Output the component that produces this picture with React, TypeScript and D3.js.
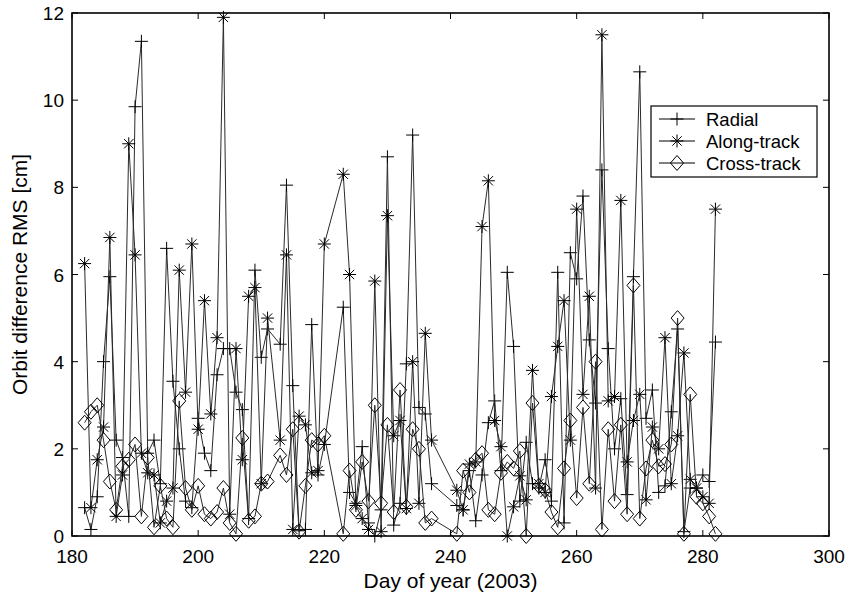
import React from 'react';
import * as d3 from 'd3';

// ---- data ----
const days = [
  182, 183, 184, 185, 186, 187, 188, 189, 190, 191, 192, 193, 194, 195, 196, 197, 198, 199, 200,
  201, 202, 203, 204, 205, 206, 207, 208, 209, 210, 211, 213, 214, 215, 216, 217, 218, 219, 220,
  223, 224, 225, 226, 227, 228, 229, 230, 231, 232, 233, 234, 235, 236, 237,
  241, 242, 243, 244, 245, 246, 247, 248, 249, 250, 251, 252, 253, 254, 255, 256, 257, 258, 259, 260,
  261, 262, 263, 264, 265, 266, 267, 268, 269, 270, 271, 272, 273, 274, 275, 276, 277, 278, 279, 280,
  281, 282,
];

const radial = [
  0.65, 0.15, 0.9, 4.0, 5.95, 2.2, 1.8, 0.45, 9.85, 11.35, 1.9, 2.2, 1.2, 6.6, 3.55, 2.0, 0.8, 0.65, 2.7,
  1.9, 1.5, 3.7, 4.3, 4.3, 3.3, 2.9, 0.4, 6.1, 4.1, 4.75, 4.4, 8.05, 3.45, 0.12, 0.15, 4.85, 1.4, 2.1,
  5.25, 1.0, 0.75, 2.05, 0.3, 0.0, 0.6, 8.7, 0.25, 0.75, 3.95, 9.2, 2.95, 2.8, 1.2,
  0.7, 0.6, 1.5, 0.35, 1.4, 2.6, 3.1, 1.5, 6.05, 4.35, 0.8, 2.15, 1.2, 1.1, 1.75, 0.8, 6.05, 0.3, 6.5, 5.9,
  7.8, 4.5, 3.05, 8.4, 4.3, 2.0, 3.15, 0.95, 5.95, 10.65, 2.7, 3.35, 1.0, 1.15, 2.85, 4.75, 0.1, 1.1, 1.1, 1.4,
  1.25, 4.45,
];

const alongTrack = [
  6.25, 0.65, 1.75, 2.5, 6.85, 0.45, 1.4, 9.0, 6.45, 1.9, 1.45, 1.4, 0.3, 0.8, 1.1, 6.1, 3.3, 6.7, 2.45,
  5.4, 2.8, 4.55, 11.9, 0.5, 4.3, 1.75, 5.5, 5.7, 1.2, 5.0, 2.2, 6.45, 0.15, 2.75, 2.55, 1.45, 1.5, 6.7,
  8.3, 6.0, 0.7, 0.4, 0.15, 5.85, 0.1, 7.35, 2.3, 2.65, 0.63, 4.0, 0.75, 4.65, 2.2,
  1.05, 0.6, 1.65, 1.7, 7.1, 8.15, 2.65, 2.05, 0.0, 0.67, 1.38, 0.83, 3.8, 1.2, 1.0, 3.2, 4.35, 5.4, 2.2, 7.5,
  3.25, 5.5, 1.1, 11.5, 3.1, 3.2, 7.7, 1.7, 2.65, 3.25, 0.83, 2.5, 2.0, 4.55, 1.2, 2.3, 4.2, 1.3, 1.1, 0.9,
  0.75, 7.5,
];

const crossTrack = [
  2.6, 2.85, 3.0, 2.2, 1.25, 0.6, 1.6, 1.75, 2.1, 0.45, 1.8, 0.2, 1.15, 0.4, 0.2, 3.1, 1.1, 0.6, 1.15,
  0.5, 0.4, 0.55, 1.1, 0.3, 0.05, 2.25, 0.35, 0.45, 1.2, 1.25, 1.85, 1.4, 2.45, 0.1, 1.15, 2.2, 2.1, 2.3,
  0.05, 1.5, 0.6, 1.7, 0.8, 3.0, 0.75, 2.55, 0.55, 3.35, 0.67, 2.45, 2.0, 0.3, 0.4,
  0.05, 1.5, 1.0, 1.75, 1.9, 0.6, 0.5, 1.45, 1.7, 1.55, 1.95, 0.0, 3.05, 1.15, 1.05, 0.55, 0.2, 1.55, 2.65, 0.87,
  2.95, 1.2, 4.0, 0.15, 2.45, 0.8, 2.55, 0.5, 5.75, 0.4, 1.55, 2.2, 1.6, 1.65, 2.1, 5.0, 0.05, 3.25, 0.9, 0.75,
  0.45, 0.05,
];

const xTicks = [180, 200, 220, 240, 260, 280, 300];
const yTicks = [0, 2, 4, 6, 8, 10, 12];
const legendLabels = ['Radial', 'Along-track', 'Cross-track'];

const W = 848;
const H = 598;
const plot = { left: 72, top: 13, right: 829, bottom: 536 };
const FONT = '"Liberation Sans", Arial, Helvetica, sans-serif';

type Kind = 'plus' | 'star' | 'diamond';

function markerPath(kind: Kind, x: number, y: number): string {
  const s = 6.5;
  if (kind === 'plus') {
    return `M${x - s},${y}H${x + s}M${x},${y - s}V${y + s}`;
  }
  if (kind === 'star') {
    const d = s * 0.72;
    return `M${x - s},${y}H${x + s}M${x},${y - s}V${y + s}` +
      `M${x - d},${y - d}L${x + d},${y + d}M${x - d},${y + d}L${x + d},${y - d}`;
  }
  const w = 6.5, h = 7.5;
  return `M${x},${y - h}L${x + w},${y}L${x},${y + h}L${x - w},${y}Z`;
}

export default function App() {
  const x = d3.scaleLinear().domain([180, 300]).range([plot.left, plot.right]);
  const y = d3.scaleLinear().domain([0, 12]).range([plot.bottom, plot.top]);

  const series: { values: number[]; kind: Kind }[] = [
    { values: radial, kind: 'plus' },
    { values: alongTrack, kind: 'star' },
    { values: crossTrack, kind: 'diamond' },
  ];

  const line = (vals: number[]) =>
    d3.line<number>()
      .x((_, i) => x(days[i]))
      .y(v => y(v))(vals) || '';

  const tickLen = 6;
  const legend = { x: 651, y: 106, w: 166, h: 71 };
  const rowY = [119, 141, 163];

  return (
    <svg width={W} height={H} style={{ position: 'absolute', left: 0, top: 0, background: '#fff' }}
      fontFamily={FONT}>
      <rect x={0} y={0} width={W} height={H} fill="#fff" />

      {series.map((s, si) => (
        <g key={si}>
          <path d={line(s.values)} fill="none" stroke="#2a2a2a" strokeWidth={1} />
          {s.values.map((v, i) => (
            <path key={i} d={markerPath(s.kind, x(days[i]), y(v))}
              fill="none" stroke="#000" strokeWidth={1} />
          ))}
        </g>
      ))}

      {/* axes box */}
      <rect x={plot.left} y={plot.top} width={plot.right - plot.left} height={plot.bottom - plot.top}
        fill="none" stroke="#000" strokeWidth={1.6} />

      {xTicks.map(t => (
        <g key={'x' + t}>
          <line x1={x(t)} x2={x(t)} y1={plot.bottom} y2={plot.bottom - tickLen} stroke="#000" />
          <line x1={x(t)} x2={x(t)} y1={plot.top} y2={plot.top + tickLen} stroke="#000" />
          <text x={x(t)} y={563} textAnchor="middle" fontSize={19}>{t}</text>
        </g>
      ))}
      {yTicks.map(t => (
        <g key={'y' + t}>
          <line x1={plot.left} x2={plot.left + tickLen} y1={y(t)} y2={y(t)} stroke="#000" />
          <line x1={plot.right} x2={plot.right - tickLen} y1={y(t)} y2={y(t)} stroke="#000" />
          <text x={64} y={y(t) + 7} textAnchor="end" fontSize={19}>{t}</text>
        </g>
      ))}

      <text x={(plot.left + plot.right) / 2} y={588} textAnchor="middle" fontSize={21}>
        Day of year (2003)
      </text>
      <text transform={`translate(27,${(plot.top + plot.bottom) / 2}) rotate(-90)`}
        textAnchor="middle" fontSize={21}>
        Orbit difference RMS [cm]
      </text>

      {/* legend */}
      <rect x={legend.x} y={legend.y} width={legend.w} height={legend.h}
        fill="#fff" stroke="#000" strokeWidth={1.2} />
      {series.map((s, i) => (
        <g key={'l' + i}>
          <line x1={legend.x + 8} x2={legend.x + 44} y1={rowY[i]} y2={rowY[i]} stroke="#000" />
          <path d={markerPath(s.kind, legend.x + 26, rowY[i])} fill="none" stroke="#000" />
          <text x={legend.x + 55} y={rowY[i] + 6.5} fontSize={18.5}>{legendLabels[i]}</text>
        </g>
      ))}
    </svg>
  );
}
